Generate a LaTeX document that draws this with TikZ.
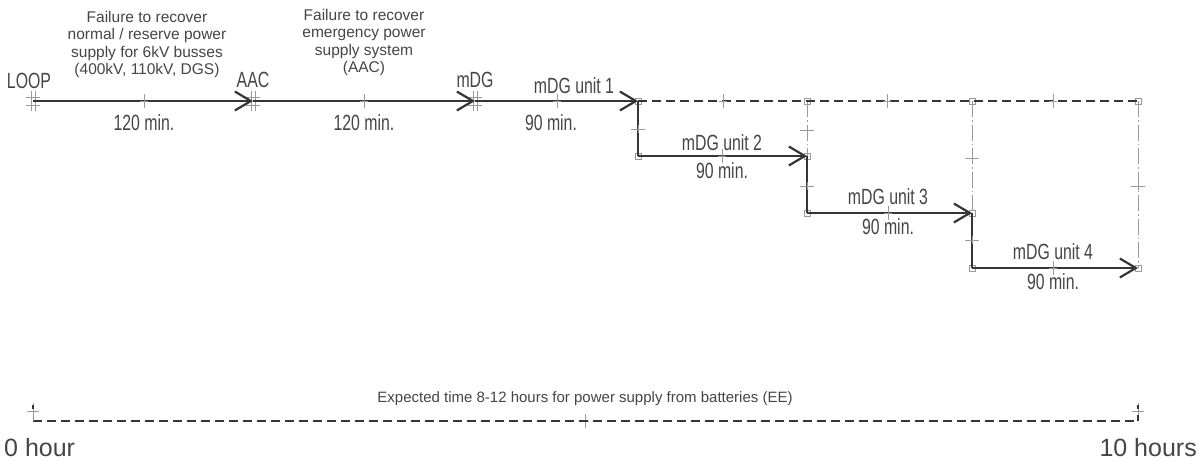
\documentclass[tikz,border=0pt]{standalone}
\usepackage{fontspec}
\setmainfont{Liberation Sans}
\newfontfamily\cadfont[FakeStretch=0.72]{Liberation Sans}
\newfontfamily\cadwide[FakeStretch=1.0]{Liberation Sans}
\usetikzlibrary{arrows.meta,calc}
\definecolor{ink}{HTML}{353535}
\definecolor{txt}{HTML}{454545}
\definecolor{tickc}{HTML}{9A9A9A}
\tikzset{
  solidline/.style={draw=ink, line width=2.2pt},
  arrowline/.style={solidline, -{Straight Barb[length=16pt,width=19pt,line width=2.2pt]}},
  dashline/.style={draw=ink, line width=2pt, dash pattern=on 9pt off 5pt},
  dashdot/.style={draw=tickc, line width=1pt, dash pattern=on 16pt off 3pt on 1.5pt off 3pt},
  tickmark/.style={draw=tickc, line width=1pt},
  cadlbl/.style={text=txt, font=\cadfont\fontsize{22}{24}\selectfont, inner sep=0pt},
  bigcad/.style={text=txt, font=\cadwide\fontsize{25}{27}\selectfont, inner sep=0pt},
  desc/.style={text=txt, font=\fontsize{15.5}{17.5}\selectfont, align=center, inner sep=0pt},
  desctwo/.style={text=txt, font=\fontsize{15}{17}\selectfont, inner sep=0pt},
}
\newcommand{\hticks}[1]{\draw[tickmark] ($(#1)+(0,-7)$) -- ($(#1)+(0,7)$) ($(#1)+(-4,0)$) -- ($(#1)+(4,0)$);}
\newcommand{\vticks}[1]{\draw[tickmark] ($(#1)+(-7,0)$) -- ($(#1)+(7,0)$) ($(#1)+(0,-4)$) -- ($(#1)+(0,4)$);}
\begin{document}
\begin{tikzpicture}[x=1pt,y=-1pt]
\useasboundingbox (0,0) rectangle (1199,463);
% coordinates
\coordinate (loop) at (33,101);
\coordinate (aac) at (253,101);
\coordinate (mdg) at (475,101);
\coordinate (u1e) at (638,101);
\coordinate (u2s) at (638,156);
\coordinate (u2e) at (807,156);
\coordinate (t2) at (807,101);
\coordinate (u3s) at (807,213);
\coordinate (u3e) at (972,213);
\coordinate (t3) at (972,101);
\coordinate (u4s) at (972,268);
\coordinate (u4e) at (1138,268);
\coordinate (t4) at (1138,101);
\coordinate (b0) at (33,421);
\coordinate (b1) at (1138,421);

% node markers (double crosses)
\foreach \p in {loop,aac,mdg}{
  \draw[tickmark] ($(\p)+(-2,-10)$) -- ($(\p)+(-2,10)$) ($(\p)+(2,-10)$) -- ($(\p)+(2,10)$)
    ($(\p)+(-7,-4)$) -- ($(\p)+(7,-4)$) ($(\p)+(-7,4)$) -- ($(\p)+(7,4)$);
}
\foreach \p in {u1e,u2s,u2e,t2,u3s,u3e,t3,u4s,u4e,t4}{
  \draw[tickmark, line width=0.8pt] ($(\p)+(-3,-3)$) rectangle ($(\p)+(3,3)$);
}

% dash-dot verticals
\draw[dashdot] (t2) -- (u2e);
\draw[dashdot] (t3) -- (u3e);
\draw[dashdot] (t4) -- (u4e);
% dashed top
\draw[dashline] (u1e) -- (t4);

% main arrows
\draw[arrowline] (loop) -- (aac);
\draw[arrowline] (aac) -- (mdg);
\draw[arrowline] (mdg) -- (u1e);
\draw[solidline] (u1e) -- (u2s);
\draw[arrowline] (u2s) -- (u2e);
\draw[solidline] (u2e) -- (u3s);
\draw[arrowline] (u3s) -- (u3e);
\draw[solidline] (u3e) -- (u4s);
\draw[arrowline] (u4s) -- (u4e);

% ticks on horizontals
\foreach \x/\y in {144/101,364/101,557/101,722/156,888/213,1053/268,723/101,887/101,1053/101,585/421}{
  \coordinate (tk) at (\x,\y); \hticks{tk}
}
\foreach \x/\y in {638/129,807/130,807/186,972/158,972/240,1138/186}{
  \coordinate (tk) at (\x,\y); \vticks{tk}
}

% bottom line
\draw[dashline] (b0) -- (b1);
\draw[tickmark] ($(b0)+(0,-18)$) -- (b0) ($(b0)+(-6,-10)$) -- ($(b0)+(6,-10)$);
\draw[tickmark] ($(b1)+(0,-18)$) -- (b1) ($(b1)+(-6,-10)$) -- ($(b1)+(6,-10)$);
\draw[draw=ink, line width=1.5pt] ($(b0)+(0,-16)$) -- ($(b0)+(0,-12)$);
\draw[draw=ink, line width=1.5pt] ($(b1)+(0,-16)$) -- ($(b1)+(0,-12)$);
\draw[draw=ink, line width=1.5pt] ($(b1)+(0,-6)$) -- (b1);

% labels
\node[cadlbl, anchor=base] (lloop) at (29,88) {LOOP};
\node[cadlbl, anchor=base] (laac) at (253,87) {AAC};
\node[cadlbl, anchor=base] (lmdg) at (475,87) {mDG};
\node[cadlbl, anchor=base] (lu1) at (574,93) {mDG unit 1};
\node[cadlbl, anchor=base] (lu2) at (722,150) {mDG unit 2};
\node[cadlbl, anchor=base] (lu3) at (888,204) {mDG unit 3};
\node[cadlbl, anchor=base] (lu4) at (1053,259) {mDG unit 4};
\node[cadlbl, anchor=base] (m1) at (144,130) {120 min.};
\node[cadlbl, anchor=base] (m2) at (364,130) {120 min.};
\node[cadlbl, anchor=base] (m3) at (551,130) {90 min.};
\node[cadlbl, anchor=base] (m4) at (722,178) {90 min.};
\node[cadlbl, anchor=base] (m5) at (888,234) {90 min.};
\node[cadlbl, anchor=base] (m6) at (1053,289) {90 min.};
\node[desc, anchor=north] (d1) at (147,11) {Failure to recover\\normal / reserve power\\supply for 6kV busses\\(400kV, 110kV, DGS)};
\node[desc, anchor=north] (d2) at (364,9) {Failure to recover\\emergency power\\supply system\\(AAC)};
\node[desctwo, anchor=base] (d3) at (585,402) {Expected time 8-12 hours for power supply from batteries (EE)};
\node[bigcad, anchor=base west] (h0) at (4,456) {0 hour};
\node[bigcad, anchor=base east] (h1) at (1197,456) {10 hours};
\end{tikzpicture}
\end{document}
